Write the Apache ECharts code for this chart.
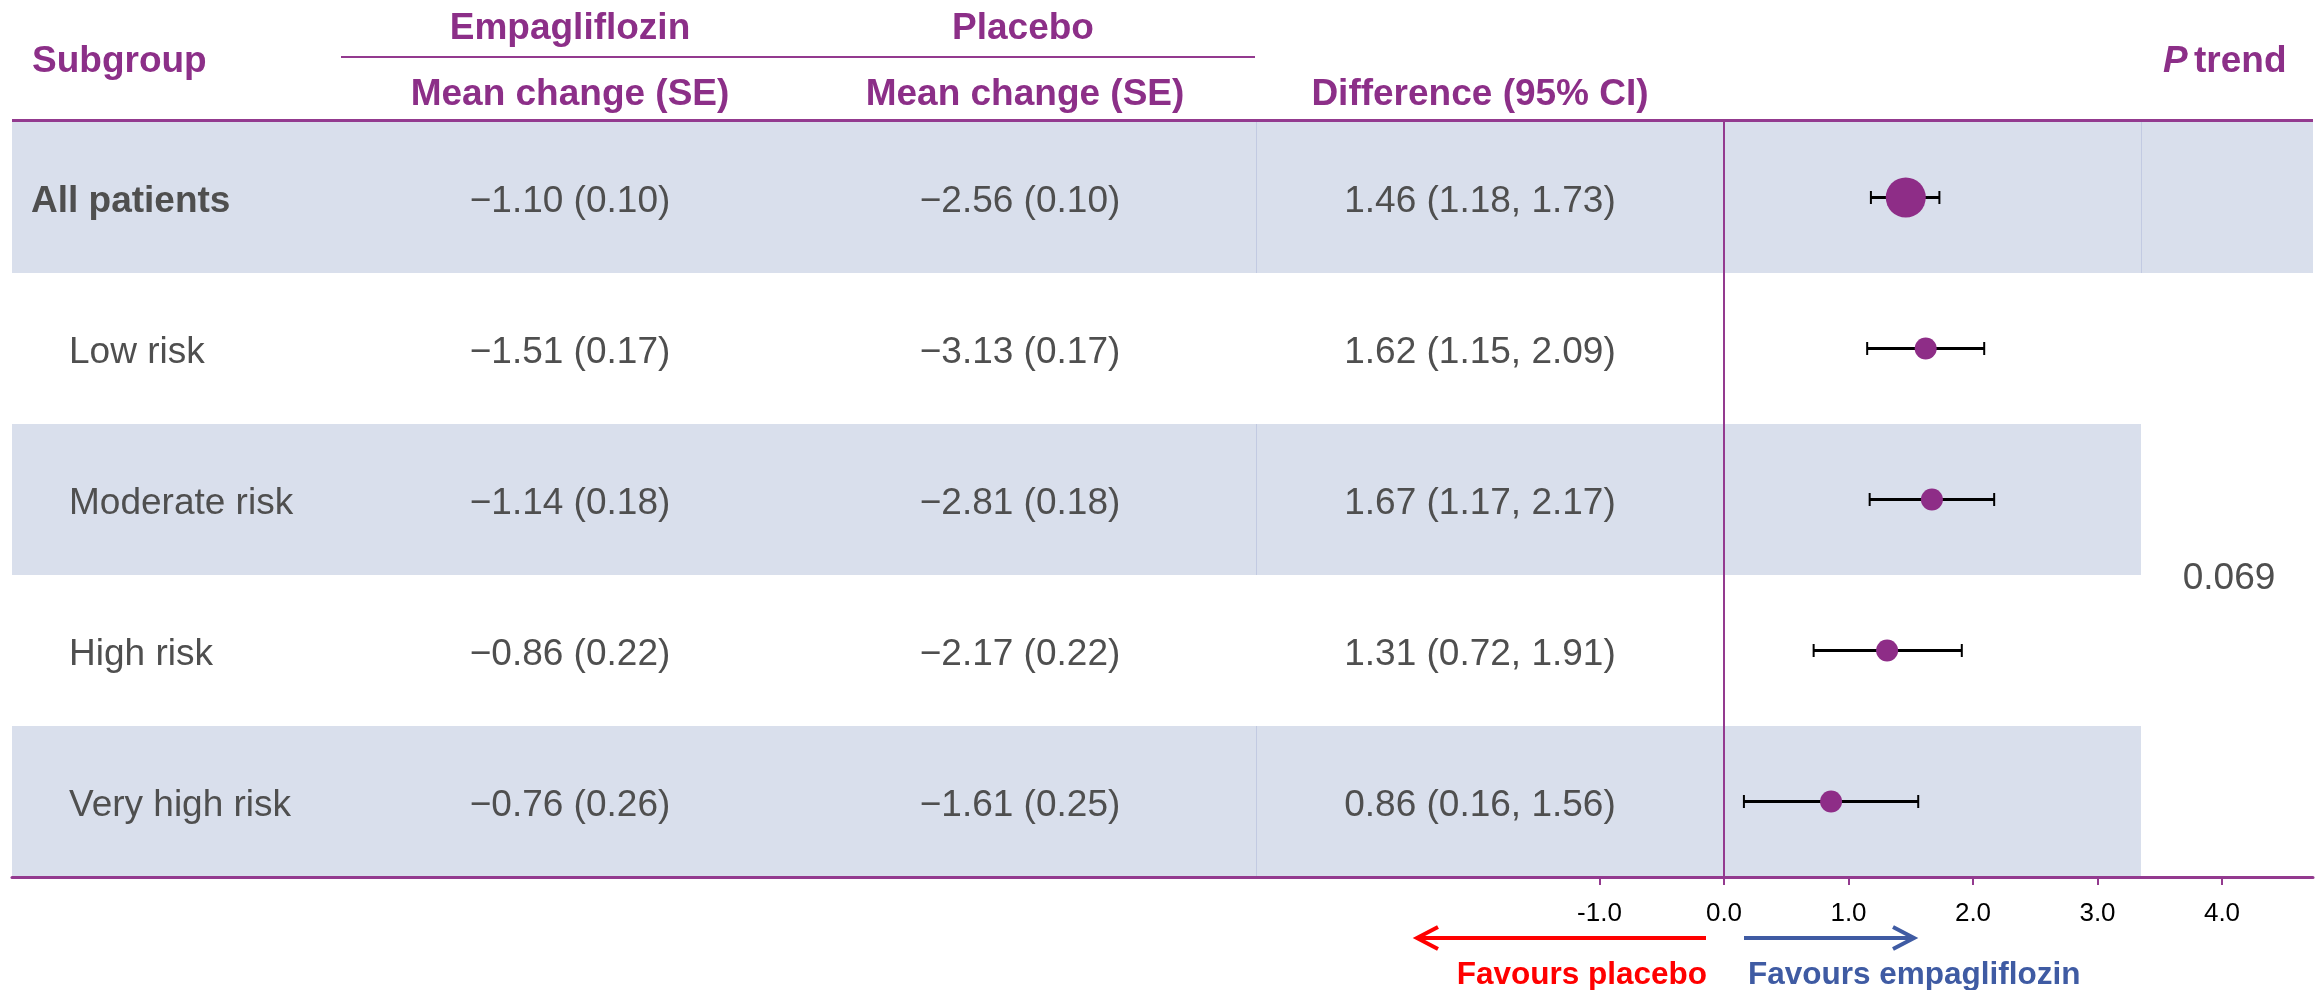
<!DOCTYPE html>
<html>
<head>
<meta charset="utf-8">
<title>Change by risk subgroup: empagliflozin vs placebo</title>
<script src="https://cdn.jsdelivr.net/npm/echarts@6/dist/echarts.min.js"></script>
<style>
  html, body { margin: 0; padding: 0; background: #ffffff; }
  #chart { width: 2318px; height: 990px; }
</style>
</head>
<body>
<div id="chart"></div>
<script>
// ---- data ----
const subgroups    = ['All patients', 'Low risk', 'Moderate risk', 'High risk', 'Very high risk'];
const empaMean     = [-1.10, -1.51, -1.14, -0.86, -0.76];
const empaSE       = [0.10, 0.17, 0.18, 0.22, 0.26];
const placeboMean  = [-2.56, -3.13, -2.81, -2.17, -1.61];
const placeboSE    = [0.10, 0.17, 0.18, 0.22, 0.25];
const diffMean     = [1.46, 1.62, 1.67, 1.31, 0.86];
const ciLow        = [1.18, 1.15, 1.17, 0.72, 0.16];
const ciHigh       = [1.73, 2.09, 2.17, 1.91, 1.56];
const pTrend       = '0.069';
const axisTickValues = [-1, 0, 1, 2, 3, 4];

// ---- layout & style ----
const W = 2318, H = 990;
const L = {
  left: 12, right: 2313, top: 122, axisY: 877,
  zeroX: 1724, unitPx: 124.5,
  sepX: 1256, pLeft: 2141,
  subX: 31, subIndentX: 69, empX: 570, plaX: 1020, diffX: 1480, pX: 2229
};
const X_MIN = (L.left - L.zeroX) / L.unitPx;
const X_MAX = (L.right - L.zeroX) / L.unitPx;

const PURPLE_TEXT = '#8c2f88';
const PURPLE_LINE = '#933a8f';
const BAND = '#d9dfec';
const BAND_RULE = '#c2cae2';
const BODY = '#4f4f4f';
const FONT = '"Liberation Sans", Arial, Helvetica, sans-serif';
const BODY_SIZE = 37;
const HEAD_SIZE = 37;
const TEXT_DY = 4;   // nudges canvas "middle" down onto the cap-height centre

const fmt2 = v => (v < 0 ? '\u2212' : '') + Math.abs(v).toFixed(2);
const meanSE = (m, se) => fmt2(m) + ' (' + se.toFixed(2) + ')';
const diffCI = (d, lo, hi) => fmt2(d) + ' (' + fmt2(lo) + ', ' + fmt2(hi) + ')';

function txt(x, y, text, opts) {
  opts = opts || {};
  const align = opts.align || 'center';
  return {
    type: 'text', x: x, y: y + TEXT_DY, silent: true, z: opts.z || 10,
    style: {
      text: text,
      fill: opts.fill || BODY,
      font: (opts.style || '') + ' ' + (opts.weight || 'normal') + ' ' + (opts.size || BODY_SIZE) + 'px ' + FONT,
      align: align, textAlign: align,
      verticalAlign: 'middle', textVerticalAlign: 'middle'
    }
  };
}

const chart = echarts.init(document.getElementById('chart'), null, { renderer: 'canvas', width: W, height: H });

const rowIdx = subgroups.map((s, i) => i);

const option = {
  animation: false,
  backgroundColor: '#ffffff',
  grid: { left: L.left, right: W - L.right, top: L.top, bottom: H - L.axisY, containLabel: false },
  xAxis: {
    type: 'value', min: X_MIN, max: X_MAX, z: 20,
    axisLine: { show: true, lineStyle: { color: PURPLE_LINE, width: 3 } },
    axisTick: { show: true, customValues: axisTickValues, length: 8, lineStyle: { color: PURPLE_LINE, width: 2 } },
    axisLabel: {
      customValues: axisTickValues,
      formatter: v => Number(v).toFixed(1),
      color: '#000000', fontSize: 26, fontFamily: FONT, margin: 24
    },
    splitLine: { show: false }
  },
  yAxis: {
    type: 'category', data: subgroups, inverse: true, show: false
  },
  series: [
    // shaded rows with their faint column rules
    {
      type: 'custom', z: 1, silent: true, clip: false,
      data: rowIdx.filter(i => i % 2 === 0).map(i => [0, i]),
      encode: { x: 0, y: 1 },
      renderItem: function (params, api) {
        const cs = params.coordSys;
        const i = api.value(1);
        const cy = api.coord([0, i])[1];
        const h = api.size([0, 1])[1];
        const x0 = cs.x;
        const x1 = i === 0 ? cs.x + cs.width : L.pLeft;
        const top = cy - h / 2;
        const children = [
          { type: 'rect', shape: { x: x0, y: top, width: x1 - x0, height: h }, style: { fill: BAND } },
          { type: 'line', shape: { x1: L.sepX + 0.5, y1: top, x2: L.sepX + 0.5, y2: top + h }, style: { stroke: BAND_RULE, lineWidth: 1 } }
        ];
        if (i === 0) {
          children.push({ type: 'line', shape: { x1: L.pLeft + 0.5, y1: top, x2: L.pLeft + 0.5, y2: top + h }, style: { stroke: BAND_RULE, lineWidth: 1 } });
        }
        return { type: 'group', children: children };
      }
    },
    // table body text
    {
      type: 'custom', z: 5, silent: true, clip: false,
      data: rowIdx.map(i => [0, i]),
      encode: { x: 0, y: 1 },
      renderItem: function (params, api) {
        const i = api.value(1);
        const cy = api.coord([0, i])[1];
        const children = [
          txt(i === 0 ? L.subX : L.subIndentX, cy, subgroups[i], { align: 'left', weight: i === 0 ? 'bold' : 'normal' }),
          txt(L.empX, cy, meanSE(empaMean[i], empaSE[i])),
          txt(L.plaX, cy, meanSE(placeboMean[i], placeboSE[i])),
          txt(L.diffX, cy, diffCI(diffMean[i], ciLow[i], ciHigh[i]))
        ];
        if (i === 1) {
          const yLast = api.coord([0, subgroups.length - 1])[1];
          children.push(txt(L.pX, (cy + yLast) / 2, pTrend));
        }
        return { type: 'group', children: children };
      }
    },
    // 95% CI whiskers
    {
      type: 'custom', z: 6, silent: true,
      data: rowIdx.map(i => [ciLow[i], ciHigh[i], i]),
      encode: { x: [0, 1], y: 2 },
      renderItem: function (params, api) {
        const a = api.coord([api.value(0), api.value(2)]);
        const b = api.coord([api.value(1), api.value(2)]);
        const cap = 6.5;
        const st = { stroke: '#000000', lineWidth: 3 };
        return {
          type: 'group',
          children: [
            { type: 'line', shape: { x1: a[0], y1: a[1], x2: b[0], y2: b[1] }, style: st },
            { type: 'line', shape: { x1: a[0], y1: a[1] - cap, x2: a[0], y2: a[1] + cap }, style: { stroke: '#000000', lineWidth: 2 } },
            { type: 'line', shape: { x1: b[0], y1: b[1] - cap, x2: b[0], y2: b[1] + cap }, style: { stroke: '#000000', lineWidth: 2 } }
          ]
        };
      }
    },
    // point estimates + line of no difference
    {
      type: 'scatter', z: 7, silent: true,
      data: rowIdx.map(i => [diffMean[i], i]),
      symbol: 'circle',
      symbolSize: (v, p) => (p.dataIndex === 0 ? 40 : 22),
      itemStyle: { color: '#8e2d87', opacity: 1 },
      markLine: {
        silent: true, symbol: 'none', animation: false,
        label: { show: false },
        lineStyle: { color: PURPLE_LINE, width: 2, type: 'solid' },
        data: [{ xAxis: 0 }],
        z: 4
      }
    }
  ],
  graphic: [
    // header
    txt(32, 58, 'Subgroup', { align: 'left', weight: 'bold', fill: PURPLE_TEXT, size: HEAD_SIZE }),
    txt(L.empX, 25, 'Empagliflozin', { weight: 'bold', fill: PURPLE_TEXT, size: HEAD_SIZE }),
    txt(1023, 25, 'Placebo', { weight: 'bold', fill: PURPLE_TEXT, size: HEAD_SIZE }),
    txt(L.empX, 91, 'Mean change (SE)', { weight: 'bold', fill: PURPLE_TEXT, size: HEAD_SIZE }),
    txt(1025, 91, 'Mean change (SE)', { weight: 'bold', fill: PURPLE_TEXT, size: HEAD_SIZE }),
    txt(L.diffX, 91, 'Difference (95% CI)', { weight: 'bold', fill: PURPLE_TEXT, size: HEAD_SIZE }),
    txt(2163, 58, 'P', { align: 'left', weight: 'bold', style: 'italic', fill: PURPLE_TEXT, size: HEAD_SIZE }),
    txt(2194, 58, 'trend', { align: 'left', weight: 'bold', fill: PURPLE_TEXT, size: HEAD_SIZE }),
    { type: 'line', silent: true, z: 10, shape: { x1: 341, y1: 57, x2: L.sepX - 1, y2: 57 }, style: { stroke: PURPLE_LINE, lineWidth: 2 } },
    { type: 'line', silent: true, z: 10, shape: { x1: L.left, y1: 120.5, x2: L.right, y2: 120.5 }, style: { stroke: PURPLE_LINE, lineWidth: 3 } },
    // direction arrows
    { type: 'line', silent: true, shape: { x1: L.zeroX - 18, y1: 938, x2: L.zeroX - 306, y2: 938 }, style: { stroke: '#ff0000', lineWidth: 4 } },
    { type: 'polyline', silent: true, shape: { points: [[L.zeroX - 286, 927], [L.zeroX - 307, 938], [L.zeroX - 286, 949]] }, style: { stroke: '#ff0000', lineWidth: 4, fill: null } },
    { type: 'line', silent: true, shape: { x1: L.zeroX + 20, y1: 938, x2: L.zeroX + 189, y2: 938 }, style: { stroke: '#3f5ba3', lineWidth: 4 } },
    { type: 'polyline', silent: true, shape: { points: [[L.zeroX + 169, 927], [L.zeroX + 190, 938], [L.zeroX + 169, 949]] }, style: { stroke: '#3f5ba3', lineWidth: 4, fill: null } },
    txt(L.zeroX - 17, 971, 'Favours placebo', { align: 'right', weight: 'bold', fill: '#ff0000', size: 31.5 }),
    txt(L.zeroX + 24, 971, 'Favours empagliflozin', { align: 'left', weight: 'bold', fill: '#3f5ba3', size: 31.5 })
  ]
};

chart.setOption(option);
</script>
</body>
</html>
